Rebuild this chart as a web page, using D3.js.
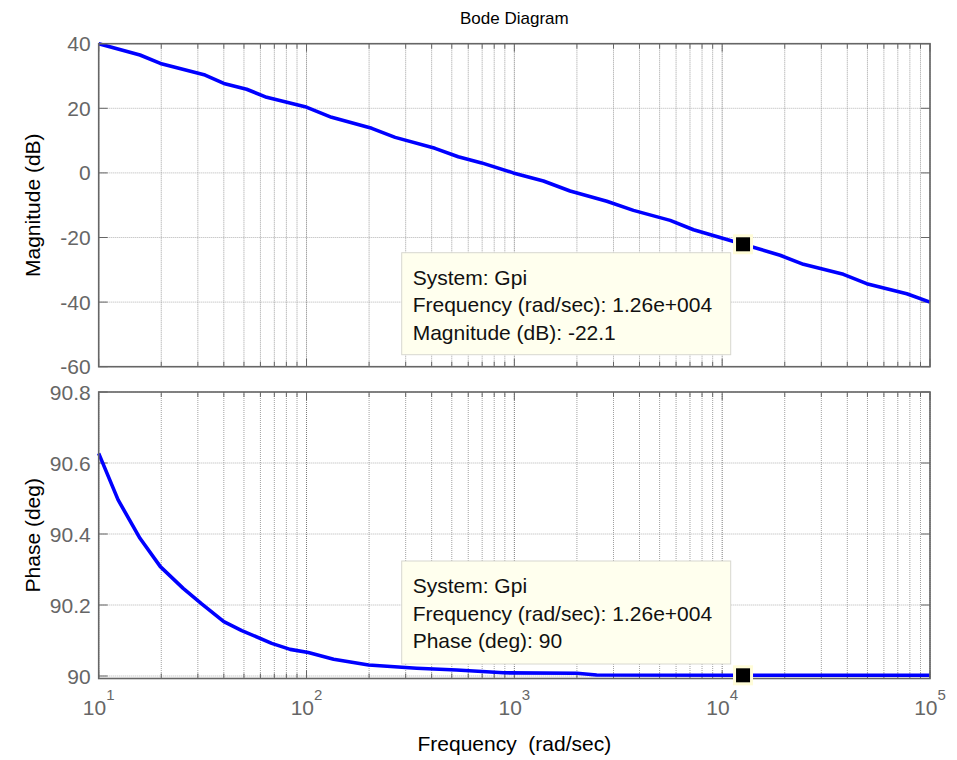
<!DOCTYPE html>
<html>
<head>
<meta charset="utf-8">
<script src="https://cdn.jsdelivr.net/npm/d3@7"></script>
<style>
  html, body { margin: 0; padding: 0; background: #fff; }
  svg { display: block; font-family: Arial, "Liberation Sans", sans-serif; }
</style>
</head>
<body>
<svg id="chart" width="957" height="760"></svg>
<script>
// Bode response of Gpi: magnitude and phase against frequency
const magFreq = [10, 15.8, 19.8, 32.5, 40, 51.5, 64.3, 98.4, 132, 206, 267, 415, 537, 696, 988,
                 1380, 1854, 2786, 3741, 5620, 7280, 9770, 12600, 19000, 24600, 38300, 49600, 77300, 100000];
const magDb = [40, 36.5, 33.9, 30.3, 27.7, 25.9, 23.4, 20.5, 17.2, 13.8, 11.0, 7.6, 5.0, 3.1, 0.0,
               -2.5, -5.6, -8.8, -11.6, -14.7, -17.6, -20.0, -22.1, -25.5, -28.3, -31.4, -34.3, -37.4, -40.0];

const phaseFreq = [10, 12.4, 15.8, 19.8, 25.5, 31.3, 40, 48.8, 68, 83.4, 102, 135, 199, 339, 528, 885,
                   2000, 2490, 12600, 100000];
const phaseDeg = [90.627, 90.496, 90.388, 90.308, 90.247, 90.203, 90.153, 90.128, 90.092, 90.075, 90.066,
                  90.047, 90.031, 90.022, 90.017, 90.009, 90.008, 90.003, 90.002, 90.002];

const magTicks = [-60, -40, -20, 0, 20, 40];
const phaseTicks = [90, 90.2, 90.4, 90.6, 90.8];
const decadeExps = [1, 2, 3, 4, 5];

// data cursor point
const tipFreq = 12600;
const tipMag = -22.1;
const tipPhase = 90.002;
const systemName = "Gpi";

const svg = d3.select("#chart");
const left = 98.7, right = 930;
const x = d3.scaleLog().domain([10, 1e5]).range([left, right]);
const yMag = d3.scaleLinear().domain([-60, 40]).range([366.7, 43.7]);
const yPh = d3.scaleLinear().domain([89.993, 90.8]).range([678.5, 392]);

const axisColor = "#666";
const labelFont = 21;

// MATLAB-style number formatting (plain hyphen for negatives)
const locale = d3.formatLocale({ decimal: ".", thousands: ",", grouping: [3], currency: ["", ""], minus: "-" });
function fmtSci(v) {
  const e = Math.floor(Math.log10(v));
  const m = v / Math.pow(10, e);
  const sign = e < 0 ? "-" : "+";
  return m.toFixed(2) + "e" + sign + String(Math.abs(e)).padStart(3, "0");
}
const fmtVal = locale.format(".4~g");

// all grid frequencies: 1..9 times each decade
const gridFreqs = [];
for (let e = 1; e < 5; e++) for (let k = 1; k <= 9; k++) gridFreqs.push(k * Math.pow(10, e));
gridFreqs.push(1e5);

function panel(y, yTicks, yFmt, freqs, vals, yLabel, tipLines, tipBox, tipVal) {
  const [y0, y1] = y.range();      // bottom, top
  const g = svg.append("g");

  // horizontal grid
  g.selectAll(".hg").data(yTicks).join("line")
    .attr("x1", left).attr("x2", right)
    .attr("y1", d => y(d)).attr("y2", d => y(d))
    .attr("stroke", "#b4b4b4").attr("stroke-width", 1).attr("stroke-dasharray", "1,1");

  // vertical grid
  g.selectAll(".vg").data(gridFreqs).join("line")
    .attr("x1", d => x(d)).attr("x2", d => x(d))
    .attr("y1", y1).attr("y2", y0)
    .attr("stroke", d => Math.abs(Math.log10(d) % 1) < 1e-9 ? "#7a7a7a" : "#a0a0a0")
    .attr("stroke-width", 1).attr("stroke-dasharray", "1,1");

  // inward tick marks on bottom / top
  const isMajor = d => Math.abs(Math.log10(d) - Math.round(Math.log10(d))) < 1e-9;
  g.selectAll(".tb").data(gridFreqs).join("line")
    .attr("x1", d => x(d)).attr("x2", d => x(d))
    .attr("y1", y0).attr("y2", d => y0 - (isMajor(d) ? 8 : 5))
    .attr("stroke", axisColor).attr("stroke-width", 1);
  g.selectAll(".tt").data(gridFreqs).join("line")
    .attr("x1", d => x(d)).attr("x2", d => x(d))
    .attr("y1", y1).attr("y2", d => y1 + (isMajor(d) ? 8 : 5))
    .attr("stroke", axisColor).attr("stroke-width", 1);
  // inward ticks on left / right
  g.selectAll(".tl").data(yTicks).join("line")
    .attr("x1", left).attr("x2", left + 9)
    .attr("y1", d => y(d)).attr("y2", d => y(d))
    .attr("stroke", axisColor).attr("stroke-width", 1);
  g.selectAll(".tr").data(yTicks).join("line")
    .attr("x1", right).attr("x2", right - 9)
    .attr("y1", d => y(d)).attr("y2", d => y(d))
    .attr("stroke", axisColor).attr("stroke-width", 1);

  // y tick labels
  g.selectAll(".yl").data(yTicks).join("text")
    .attr("x", left - 8).attr("y", d => y(d))
    .attr("text-anchor", "end").attr("dominant-baseline", "central")
    .attr("font-size", labelFont).attr("fill", "#666")
    .text(yFmt);

  // y label
  g.append("text")
    .attr("transform", `translate(32,${(y0 + y1) / 2}) rotate(-90)`)
    .attr("text-anchor", "middle").attr("dominant-baseline", "central")
    .attr("font-size", 21).attr("fill", "#000")
    .text(yLabel);

  // response curve
  const line = d3.line().x(d => x(d[0])).y(d => y(d[1]));
  g.append("path")
    .datum(d3.zip(freqs, vals))
    .attr("d", line)
    .attr("fill", "none").attr("stroke", "#0000ff").attr("stroke-width", 3.6)
    .attr("stroke-linejoin", "round");

  // axes box
  g.append("rect")
    .attr("x", left).attr("y", y1).attr("width", right - left).attr("height", y0 - y1)
    .attr("fill", "none").attr("stroke", axisColor).attr("stroke-width", 1.6);

  // data tip box
  g.append("rect")
    .attr("x", tipBox[0]).attr("y", tipBox[1]).attr("width", tipBox[2]).attr("height", tipBox[3])
    .attr("fill", "#ffffee").attr("stroke", "#d8d8d0").attr("stroke-width", 1);
  g.selectAll(".tip").data(tipLines).join("text")
    .attr("x", tipBox[0] + 11)
    .attr("y", (d, i) => tipBox[1] + 32 + i * 27.5)
    .attr("font-size", labelFont).attr("fill", "#111")
    .text(d => d);

  // data tip marker
  const mx = x(tipFreq), my = y(tipVal);
  g.append("rect")
    .attr("x", mx - 10).attr("y", my - 10).attr("width", 20).attr("height", 20)
    .attr("fill", "#fffcd8");
  g.append("rect")
    .attr("x", mx - 7).attr("y", my - 7).attr("width", 14).attr("height", 14)
    .attr("fill", "#000");
}

panel(yMag, magTicks, d => d, magFreq, magDb, "Magnitude (dB)",
  ["System: " + systemName, "Frequency (rad/sec): " + fmtSci(tipFreq), "Magnitude (dB): " + fmtVal(tipMag)],
  [401.7, 252.7, 329, 102], tipMag);

panel(yPh, phaseTicks, d => d3.format(".1f")(d).replace(/\.0$/, ""), phaseFreq, phaseDeg, "Phase (deg)",
  ["System: " + systemName, "Frequency (rad/sec): " + fmtSci(tipFreq), "Phase (deg): " + fmtVal(tipPhase)],
  [401.7, 561, 329, 103], tipPhase);

// x tick labels: 10 with superscript exponent
const xl = svg.append("g");
decadeExps.forEach(e => {
  const t = xl.append("text")
    .attr("x", x(Math.pow(10, e))).attr("y", 715)
    .attr("text-anchor", "middle")
    .attr("font-size", labelFont).attr("fill", "#666");
  t.append("tspan").text("10");
  t.append("tspan").attr("font-size", 15).attr("dy", -15).text(e);
});

// title and x label
svg.append("text")
  .attr("x", (left + right) / 2).attr("y", 24)
  .attr("text-anchor", "middle").attr("font-size", 17).attr("fill", "#000")
  .text("Bode Diagram");
svg.append("text")
  .attr("x", (left + right) / 2).attr("y", 751)
  .attr("text-anchor", "middle").attr("font-size", 21).attr("fill", "#000")
  .attr("xml:space", "preserve").style("white-space", "pre")
  .text("Frequency  (rad/sec)");
</script>
</body>
</html>
